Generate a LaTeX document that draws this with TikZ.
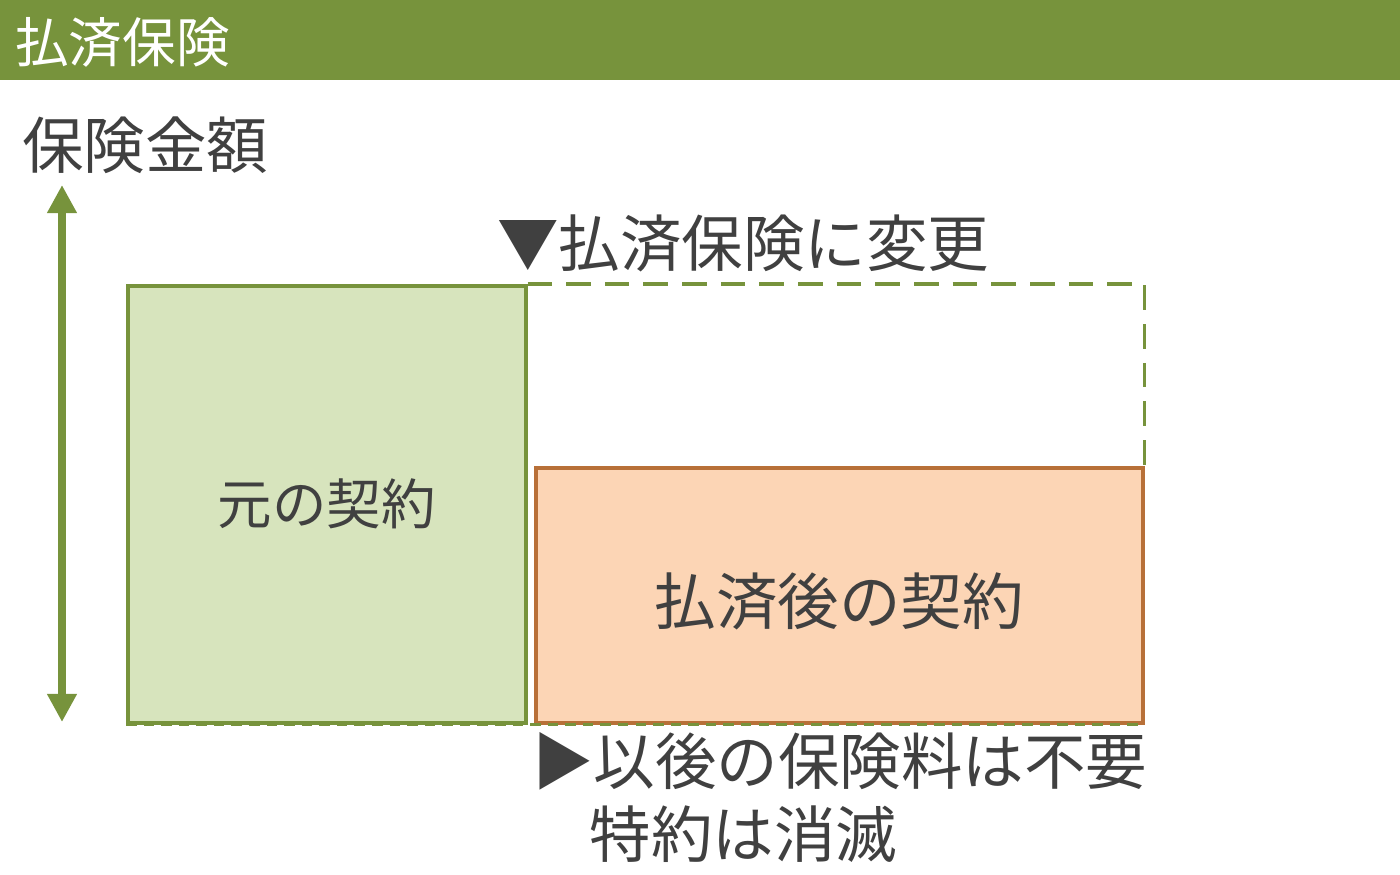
\documentclass[tikz,border=0pt]{standalone}
\usepackage{fontspec}
\setmainfont{Noto Sans CJK JP}
\definecolor{hdgreen}{RGB}{119,147,60}
\definecolor{boxgreen}{RGB}{215,228,189}
\definecolor{boxorange}{RGB}{252,213,181}
\definecolor{lineorange}{RGB}{184,112,56}
\definecolor{txtgray}{RGB}{64,64,64}
\usetikzlibrary{arrows.meta,positioning}

\begin{document}
\begin{tikzpicture}[x=0.02cm,y=-0.02cm,
  plan/.style={draw,line width=2pt,inner sep=0pt},
  lbl/.style={font=\fontsize{35pt}{42pt}\selectfont,text=txtgray,inner sep=0pt},
  bigtxt/.style={font=\fontsize{35pt}{41.5pt}\selectfont,text=txtgray,inner sep=0pt,align=left}
]
  \useasboundingbox (0,0) rectangle (1400,875);

  % Header bar
  \fill[hdgreen] (0,0) rectangle (1400,80);
  \node[anchor=west,inner sep=0pt,text=white,font=\fontsize{30.5pt}{36pt}\selectfont] (title) at (15,42) {払済保険};

  % Axis
  \node[lbl,anchor=west] (ylbl) at (22,145) {保険金額};
  \coordinate (ytop) at (62,185);
  \coordinate (ybot) at (62,722);
  \draw[hdgreen,line width=4.5pt,{Triangle[width=16pt,length=16pt]}-{Triangle[width=16pt,length=16pt]}] (ytop) -- (ybot);

  % Boxes
  \node[plan,draw=hdgreen,fill=boxgreen,minimum width=398*0.02cm,minimum height=437*0.02cm,anchor=north west] (orig) at (126,284) {};
  \node[plan,draw=lineorange,fill=boxorange,minimum width=607*0.02cm,minimum height=255*0.02cm,anchor=north west] (paid) at (534,466) {};
  \draw[hdgreen,line width=2pt,dashed,dash pattern=on 14pt off 8pt] (orig.north east) -| (paid.north east);
  \draw[hdgreen,line width=2pt,dashed,dash pattern=on 6pt off 4pt] (orig.south west) -- (paid.south east);

  \node[lbl,font=\fontsize{31pt}{37pt}\selectfont] (origlbl) at (orig.center) {元の契約};
  \node[lbl] (paidlbl) at ([yshift=-0.13cm]paid.center) {払済後の契約};

  % Notes
  \node[lbl,anchor=west] (chg) at (497,243) {▼払済保険に変更};
  \node[bigtxt,anchor=north west] (after) at (532,732) {▶以後の保険料は不要\\\hspace*{1.15cm}特約は消滅};
\end{tikzpicture}
\end{document}
